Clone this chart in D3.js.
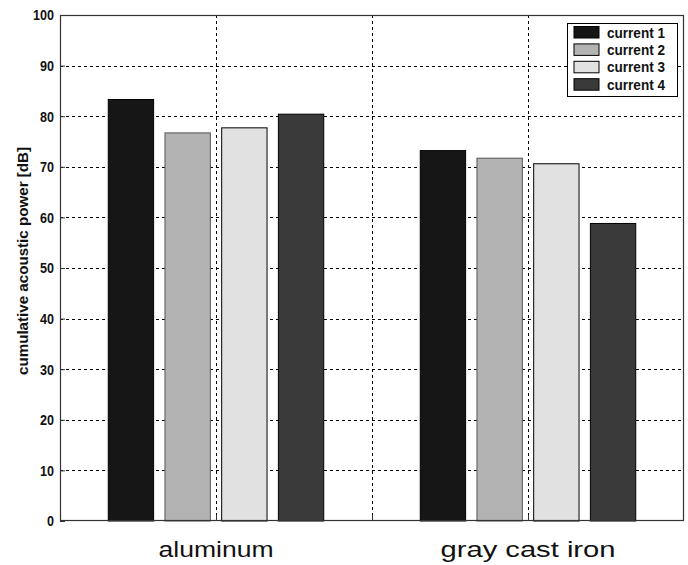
<!DOCTYPE html>
<html>
<head>
<meta charset="utf-8">
<script src="https://cdn.jsdelivr.net/npm/d3@7"></script>
<style>
  body { margin: 0; background: #fff; }
  svg { display: block; }
  .narrow { font-family: "Liberation Sans Narrow", "Arial Narrow", "Liberation Sans", Arial, sans-serif; font-weight: bold; }
</style>
</head>
<body>
<svg id="chart" width="688" height="565"></svg>
<script>
// Materials along the x axis
const materials = ["aluminum", "gray cast iron"];
// Excitation currents (one bar per current in each group)
const series = ["current 1", "current 2", "current 3", "current 4"];
// Cumulative acoustic power [dB], one array per material, ordered by current
const aluminumValues = [83.3, 76.7, 77.7, 80.4];
const castIronValues = [73.2, 71.7, 70.6, 58.8];
const yTicks = [0, 10, 20, 30, 40, 50, 60, 70, 80, 90, 100];
const xGrid = [1, 1.5, 2];
const fills = ["#161616", "#b3b3b3", "#e1e1e1", "#3a3a3a"];

const values = [aluminumValues, castIronValues];

const svg = d3.select("#chart");
const plotL = 60, plotR = 684, plotT = 15, plotB = 521;

const x = d3.scaleLinear().domain([0.5, 2.5]).range([plotL, plotR]);
const y = d3.scaleLinear().domain([0, 100]).range([plotB, plotT]);

// Grouped bar layout: group width 0.727 data units centred on each category
const groupWidth = 0.727;
const inner = d3.scaleBand().domain(series)
  .range([0, x(groupWidth) - x(0)])
  .paddingInner(0.2).paddingOuter(0.1);

// Grid lines
const grid = svg.append("g").attr("stroke", "#000").attr("stroke-width", 1)
  .attr("stroke-dasharray", "3,3");
grid.selectAll("line.h").data(yTicks.filter(t => t > 0 && t < 100)).join("line")
  .attr("class", "h")
  .attr("x1", plotL).attr("x2", plotR)
  .attr("y1", d => Math.round(y(d)) + 0.5).attr("y2", d => Math.round(y(d)) + 0.5);
grid.selectAll("line.v").data(xGrid).join("line")
  .attr("class", "v")
  .attr("y1", plotT).attr("y2", plotB)
  .attr("x1", d => Math.round(x(d)) + 0.5).attr("x2", d => Math.round(x(d)) + 0.5);

// Bars
materials.forEach((m, gi) => {
  const gx = x(gi + 1) - (x(groupWidth) - x(0)) / 2;
  svg.append("g").selectAll("rect").data(values[gi]).join("rect")
    .attr("x", (d, i) => gx + inner(series[i]))
    .attr("width", inner.bandwidth())
    .attr("y", d => y(d))
    .attr("height", d => y(0) - y(d))
    .attr("fill", (d, i) => fills[i])
    .attr("stroke", (d, i) => i === 1 ? "#555" : "#000")
    .attr("stroke-width", 1);
});

// Axes frame
svg.append("rect")
  .attr("x", plotL + 0.5).attr("y", plotT + 0.5)
  .attr("width", plotR - plotL - 1).attr("height", plotB - plotT - 1)
  .attr("fill", "none").attr("stroke", "#333").attr("stroke-width", 1.2);

// Y axis ticks and labels (bold, horizontally condensed digits)
const yAxis = d3.axisLeft(y).tickValues(yTicks).tickSize(-5).tickPadding(6).tickFormat(d3.format("d"));
const ya = svg.append("g").attr("transform", `translate(${plotL},0)`).call(yAxis);
ya.select(".domain").remove();
ya.selectAll(".tick line").attr("stroke", "#333");
ya.selectAll(".tick text")
  .attr("class", "narrow")
  .attr("font-size", 15)
  .attr("fill", "#111")
  .attr("textLength", d => String(d).length * 7)
  .attr("lengthAdjust", "spacingAndGlyphs");

// Ticks at the x grid positions along the bottom
svg.append("g").selectAll("line").data(xGrid).join("line")
  .attr("x1", d => Math.round(x(d)) + 0.5).attr("x2", d => Math.round(x(d)) + 0.5)
  .attr("y1", plotB).attr("y2", plotB - 6)
  .attr("stroke", "#333");

// Category labels
svg.append("g").selectAll("text").data(materials).join("text")
  .attr("x", (d, i) => x(i + 1))
  .attr("y", 557)
  .attr("text-anchor", "middle")
  .attr("font-family", "Liberation Sans, Arial, sans-serif")
  .attr("font-size", 22)
  .attr("fill", "#111")
  .attr("textLength", (d, i) => i === 0 ? 115 : 175)
  .attr("lengthAdjust", "spacingAndGlyphs")
  .text(d => d);

// Y axis title
svg.append("text")
  .attr("class", "narrow")
  .attr("transform", "translate(28,261) rotate(-90)")
  .attr("text-anchor", "middle")
  .attr("font-size", 14)
  .attr("fill", "#111")
  .attr("textLength", 228)
  .attr("lengthAdjust", "spacingAndGlyphs")
  .text("cumulative acoustic power [dB]");

// Legend
const lg = svg.append("g").attr("transform", "translate(567,23)");
lg.append("rect").attr("x", 0.5).attr("y", 0.5).attr("width", 110).attr("height", 73)
  .attr("fill", "#fff").attr("stroke", "#000").attr("stroke-width", 1);
const rows = lg.selectAll("g.row").data(series).join("g")
  .attr("class", "row")
  .attr("transform", (d, i) => `translate(7,${3.5 + i * 17.4})`);
rows.append("rect").attr("width", 25).attr("height", 11.5)
  .attr("fill", (d, i) => fills[i]).attr("stroke", "#000").attr("stroke-width", 1);
rows.append("text").attr("class", "narrow")
  .attr("x", 33).attr("y", 11)
  .attr("font-size", 14).attr("fill", "#111")
  .attr("textLength", 58)
  .attr("lengthAdjust", "spacingAndGlyphs")
  .text(d => d);
</script>
</body>
</html>
